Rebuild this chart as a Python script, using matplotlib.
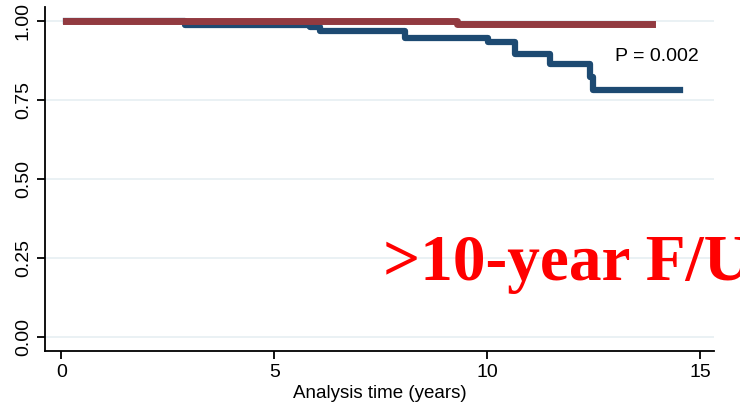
import matplotlib
matplotlib.use("Agg")
import matplotlib.pyplot as plt

# Kaplan-Meier style step curves (time in years, survival)
red_t = [0.1, 9.3, 13.87]
red_s = [1.00, 0.990, 0.990]

blue_t = [0.1, 2.9, 5.85, 6.08, 8.07, 10.02, 10.66, 11.48, 12.42, 12.49, 14.53]
blue_s = [1.00, 0.987, 0.980, 0.969, 0.945, 0.932, 0.895, 0.863, 0.822, 0.782, 0.782]

xticks = [0, 5, 10, 15]
yticks = [0.00, 0.25, 0.50, 0.75, 1.00]

plt.rcParams['font.family'] = ['Liberation Sans', 'DejaVu Sans']

fig = plt.figure(figsize=(7.4, 4.13), dpi=100)
ax = fig.add_axes([0.061, 0.150, 0.904, 0.833])

for y in yticks:
    ax.axhline(y, color='#e6eff2', lw=1.2, zorder=0)

ax.step(blue_t, blue_s, where='post', color='#1d4a72', lw=4.5, zorder=2)
ax.step(red_t, red_s, where='post', color='#923a40', lw=5, zorder=3)

ax.text(13.0, 0.887, "P = 0.002", fontsize=14, va='center', ha='left')

ax.set_xlim(-0.38, 15.33)
ax.set_ylim(-0.044, 1.044)
ax.set_xticks(xticks)
ax.set_xticklabels([str(t) for t in xticks], fontsize=14)
ax.set_yticks(yticks)
ax.set_yticklabels([f"{v:.2f}" for v in yticks], fontsize=14, rotation=90, va='center')
ax.tick_params(direction='out', length=6, width=1.3)
ax.spines['top'].set_visible(False)
ax.spines['right'].set_visible(False)
ax.spines['left'].set_linewidth(1.3)
ax.spines['bottom'].set_linewidth(1.3)
ax.set_xlabel("Analysis time (years)", fontsize=13.5, labelpad=3)

# big annotation, cut off by the right edge as in the original slide
fig.text(383 / 740, 1 - 280 / 413, ">10-year F/U", color='#ff0000',
         fontsize=47, fontweight='bold', family='Liberation Serif',
         ha='left', va='baseline')

fig.savefig("out.png", dpi=100)
